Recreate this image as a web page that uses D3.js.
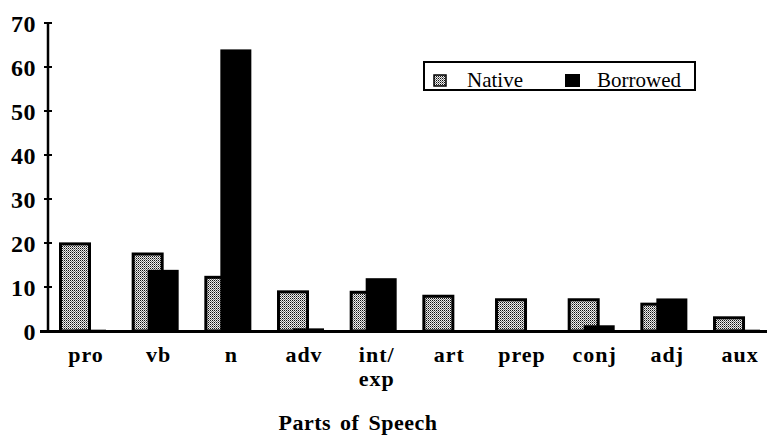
<!DOCTYPE html>
<html>
<head>
<meta charset="utf-8">
<script src="https://cdn.jsdelivr.net/npm/d3@7"></script>
<style>
  body { margin: 0; background: #fff; }
  text { font-family: "Liberation Serif", "Times New Roman", serif; fill: #000; }
</style>
</head>
<body>
<div id="chart"></div>
<script>
// data
const categories = ["pro", "vb", "n", "adv", "int/exp", "art", "prep", "conj", "adj", "aux"];
const native = [19.8, 17.5, 12.2, 8.9, 8.8, 7.9, 7.1, 7.1, 6.1, 3.0];
const borrowed = [0.3, 13.9, 64, 0.6, 12.0, 0.2, 0.2, 1.3, 7.4, 0.3];
const yTicks = [0, 10, 20, 30, 40, 50, 60, 70];

const width = 767;
const height = 436;

const svg = d3.select("#chart")
  .append("svg")
  .attr("width", width)
  .attr("height", height);

// stipple fill for native bars
const pat = svg.append("defs")
  .append("pattern")
  .attr("id", "stipple")
  .attr("width", 2)
  .attr("height", 2)
  .attr("patternUnits", "userSpaceOnUse");
pat.append("rect").attr("width", 2).attr("height", 2).attr("fill", "#eee");
pat.append("rect").attr("x", 0).attr("y", 0).attr("width", 1).attr("height", 1).attr("fill", "#111");
pat.append("rect").attr("x", 1).attr("y", 1).attr("width", 1).attr("height", 1).attr("fill", "#777");

const y = d3.scaleLinear().domain([0, 70]).range([331, 23]);
const x = d3.scaleBand().domain(categories).range([45, 45 + 10 * 72.67]);

// native bars
svg.selectAll(".native")
  .data(categories)
  .enter()
  .append("rect")
  .attr("class", "native")
  .attr("x", d => x(d) + 15.5)
  .attr("width", 29)
  .attr("y", (d, i) => y(native[i]))
  .attr("height", (d, i) => y(0) - y(native[i]))
  .attr("fill", "url(#stipple)")
  .attr("stroke", "#000")
  .attr("stroke-width", 3);

// borrowed bars
svg.selectAll(".borrowed")
  .data(categories)
  .enter()
  .append("rect")
  .attr("class", "borrowed")
  .attr("x", d => x(d) + 30)
  .attr("width", 31)
  .attr("y", (d, i) => y(borrowed[i]))
  .attr("height", (d, i) => y(0) - y(borrowed[i]))
  .attr("fill", "#000");

// y axis
const yAxis = svg.append("g")
  .attr("transform", "translate(48,0)")
  .call(d3.axisLeft(y).tickValues(yTicks).tickSize(0).tickPadding(12));
yAxis.select(".domain").remove();
yAxis.selectAll("text")
  .style("font-family", "'Liberation Serif', serif")
  .style("font-weight", "bold")
  .style("font-size", "24px")
  .style("letter-spacing", "0.5px")
  .attr("dy", "0.34em");
yAxis.append("line")
  .attr("y1", y(70)).attr("y2", y(0))
  .attr("stroke", "#000").attr("stroke-width", 2.5);
yAxis.selectAll(".tk")
  .data(yTicks)
  .enter()
  .append("line")
  .attr("x1", -4).attr("x2", 4)
  .attr("y1", d => y(d)).attr("y2", d => y(d))
  .attr("stroke", "#000").attr("stroke-width", 2);

// baseline
svg.append("line")
  .attr("x1", 40).attr("x2", 767)
  .attr("y1", y(0) + 0.5).attr("y2", y(0) + 0.5)
  .attr("stroke", "#000").attr("stroke-width", 3);

// category labels
const catLabels = svg.selectAll(".cat")
  .data(categories)
  .enter()
  .append("text")
  .attr("class", "cat")
  .attr("x", d => x(d) + 41)
  .attr("y", 362)
  .attr("text-anchor", "middle")
  .style("font-weight", "bold")
  .style("font-size", "22px")
  .style("letter-spacing", "1px");
catLabels.each(function(d) {
  const parts = d === "int/exp" ? ["int/", "exp"] : [d];
  const t = d3.select(this);
  parts.forEach((p, j) => {
    t.append("tspan")
      .attr("x", x(d) + 41)
      .attr("dy", j === 0 ? 0 : 24)
      .text(p);
  });
});

// axis title
svg.append("text")
  .attr("x", 358)
  .attr("y", 430)
  .attr("text-anchor", "middle")
  .style("font-weight", "bold")
  .style("font-size", "22px")
  .style("letter-spacing", "0.5px")
  .style("word-spacing", "3px")
  .text("Parts of Speech");

// legend
const legend = svg.append("g");
legend.append("rect")
  .attr("x", 424).attr("y", 62)
  .attr("width", 271).attr("height", 28)
  .attr("fill", "#fff")
  .attr("stroke", "#000").attr("stroke-width", 2);
legend.append("rect")
  .attr("x", 434).attr("y", 75)
  .attr("width", 12).attr("height", 11)
  .attr("fill", "url(#stipple)")
  .attr("stroke", "#000").attr("stroke-width", 1.5);
legend.append("rect")
  .attr("x", 565).attr("y", 74)
  .attr("width", 15).attr("height", 13)
  .attr("fill", "#000");
legend.append("text")
  .attr("x", 467).attr("y", 87)
  .style("font-size", "21px")
  .text("Native");
legend.append("text")
  .attr("x", 597).attr("y", 87)
  .style("font-size", "21px")
  .text("Borrowed");
</script>
</body>
</html>
